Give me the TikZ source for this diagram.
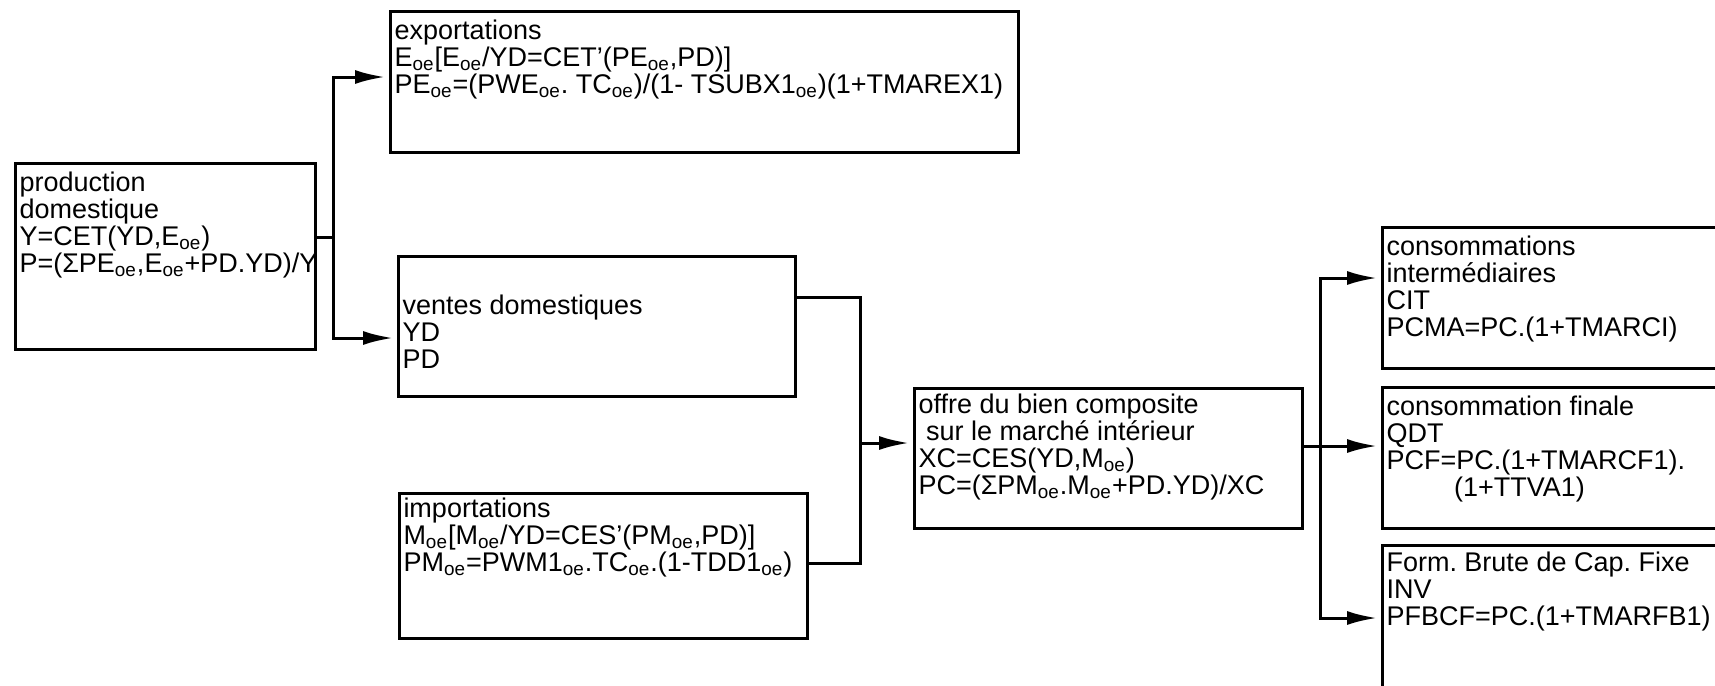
\documentclass[tikz,border=0pt]{standalone}
\usepackage{fontspec}
\setmainfont{Liberation Sans}
\usepackage{tikz}
\usetikzlibrary{arrows.meta}
\frenchspacing
\newcommand{\oesub}{\textsubscript{oe}}
% width, height, first baseline, lines
\newcommand{\fbx}[4]{\parbox[c][#2][t]{#1}{\raggedright\leftskip=2pt\lineskiplimit=-20pt\rule{0pt}{#3}#4}}

\begin{document}
\begin{tikzpicture}[x=0.5pt,y=-0.5pt,
  blk/.style={draw,line width=1.5pt,inner sep=0pt,anchor=north west,font=\fontsize{13.5}{13.5}\selectfont},
  flow/.style={line width=1.5pt},
  arr/.style={flow,-{Latex[length=15pt,width=7pt]},shorten >=2pt}]
\useasboundingbox (0,0) rectangle (1715,686);
\clip (0,0) rectangle (1715,686);
% offre
\node[blk] (prod) at (14,162) {\fbx{150pt}{93pt}{14pt}{production\\domestique\\Y=CET(YD,E\oesub)\\P=(ΣPE\oesub,E\oesub+PD.YD)/Y}};
\node[blk] (expo) at (389,10) {\fbx{314pt}{70.5pt}{14pt}{exportations\\E\oesub[E\oesub/YD=CET'(PE\oesub,PD)]\\PE\oesub=(PWE\oesub. TC\oesub)/(1- TSUBX1\oesub)(1+TMAREX1)}};
\node[blk] (vent) at (397,255) {\fbx{198.5pt}{70pt}{29pt}{ventes domestiques\\YD\\PD}};
\node[blk] (impo) at (398,492) {\fbx{204pt}{72.5pt}{12pt}{importations\\M\oesub[M\oesub/YD=CES'(PM\oesub,PD)]\\PM\oesub=PWM1\oesub.TC\oesub.(1-TDD1\oesub)}};
\node[blk] (offre) at (913,387) {\fbx{194pt}{70pt}{12.5pt}{offre du bien composite\\\hspace*{.28em}sur le marché intérieur\\XC=CES(YD,M\oesub)\\PC=(ΣPM\oesub.M\oesub+PD.YD)/XC}};
% demande
\node[blk] (ci) at (1381,226) {\fbx{200pt}{70.5pt}{14pt}{consommations\\intermédiaires\\CIT\\PCMA=PC.(1+TMARCI)}};
\node[blk] (cf) at (1381,386) {\fbx{200pt}{70.5pt}{14pt}{consommation finale\\QDT\\PCF=PC.(1+TMARCF1).\\\hspace*{2.5em}(1+TTVA1)}};
\node[blk] (fbcf) at (1381,544) {\fbx{200pt}{90pt}{13pt}{Form. Brute de Cap. Fixe\\INV\\PFBCF=PC.(1+TMARFB1)}};
% branchements
\coordinate (j1) at (333,237);
\coordinate (j2) at (860,443);
\coordinate (j3) at (1320,446);
\coordinate (h77) at (0,77);
\coordinate (h338) at (0,338);
\coordinate (h297) at (0,297);
\coordinate (h563) at (0,563);
\coordinate (h278) at (0,278);
\coordinate (h618) at (0,618);
\draw[flow] (prod.east |- j1) -- (j1);
\draw[arr] (j1) |- (expo.west |- h77);
\draw[arr] (j1) |- (vent.west |- h338);
\draw[flow] (vent.east |- h297) -| (j2);
\draw[flow] (impo.east |- h563) -| (j2);
\draw[arr] (j2) -- (offre.west |- j2);
\draw[arr] (offre.east |- j3) -- (cf.west |- j3);
\draw[arr] (j3) |- (ci.west |- h278);
\draw[arr] (j3) |- (fbcf.west |- h618);
\end{tikzpicture}
\end{document}
